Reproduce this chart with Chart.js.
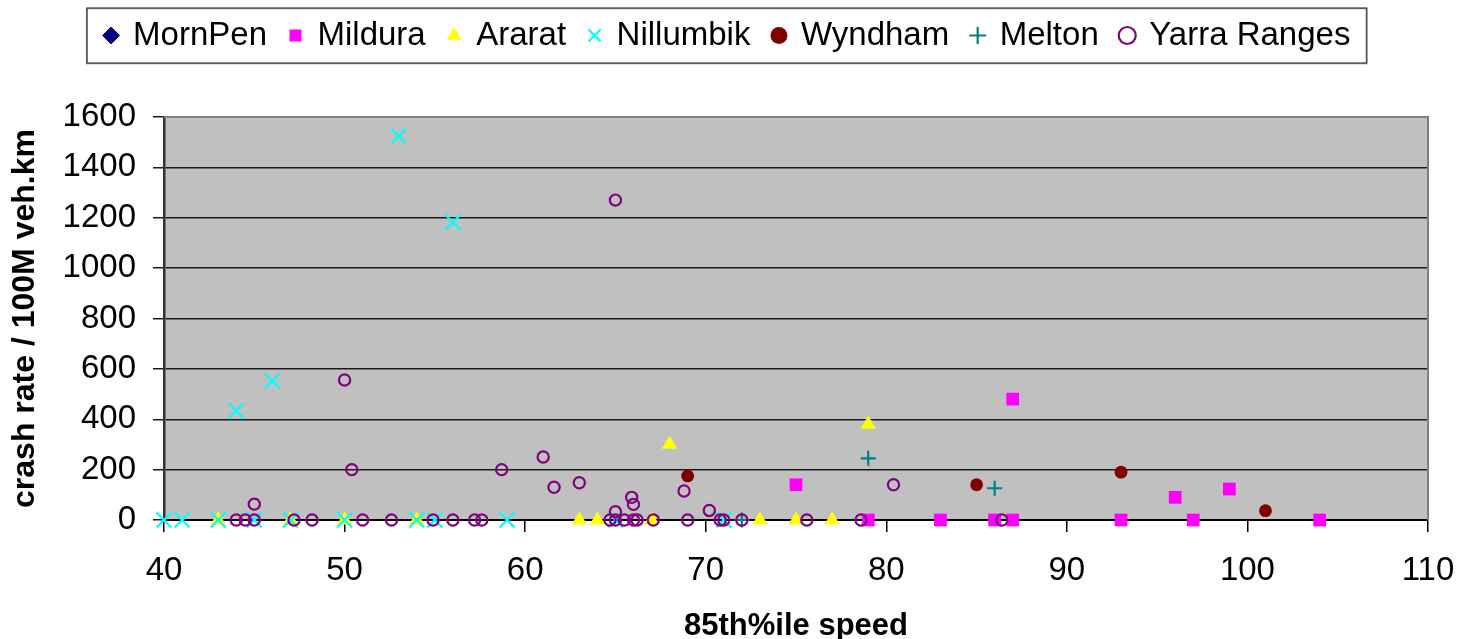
<!DOCTYPE html>
<html>
<head>
<meta charset="utf-8">
<script src="https://cdn.jsdelivr.net/npm/chart.js@4"></script>
<style>
  html, body { margin: 0; padding: 0; background: #ffffff; }
  #wrap { width: 1465px; height: 639px; position: relative; }
</style>
</head>
<body>
<div id="wrap"><canvas id="c"></canvas></div>
<script>
// ---- data ----
const seriesNames = ["MornPen", "Mildura", "Ararat", "Nillumbik", "Wyndham", "Melton", "Yarra Ranges"];

const mornPenX = [];
const mornPenY = [];

const milduraX = [75, 79, 83, 86, 87, 87, 93, 96, 97, 99, 104];
const milduraY = [140, 0, 0, 0, 0, 480, 0, 90, 0, 123, 0];

const araratX = [43, 47, 50, 54, 63, 64, 67, 68, 73, 75, 77, 79];
const araratY = [0, 0, 0, 0, 0, 0, 0, 300, 0, 0, 0, 380];

const nillumbikX = [40, 41, 43, 44, 45, 46, 47, 50, 53, 54, 55, 56, 59, 65, 71];
const nillumbikY = [0, 0, 0, 434, 0, 552, 0, 0, 1524, 0, 0, 1182, 0, 0, 0];

const wyndhamX = [69, 85, 93, 101];
const wyndhamY = [175, 140, 190, 37];

const meltonX = [72, 79, 86];
const meltonY = [0, 245, 126];

const yarraX = [44, 44.5, 45, 45, 47.2, 48.2, 50, 50.4, 51, 52.6, 54.9, 56, 57.2, 57.6, 58.7,
                61, 61.6, 63, 64.7, 65, 65, 65, 65.5, 65.9, 66, 66, 66.2, 67.1, 68.8, 69,
                70.2, 70.8, 71, 72, 75.6, 78.6, 80.4, 86.4];
const yarraY = [0, 0, 0, 63, 0, 0, 556, 200, 0, 0, 0, 0, 0, 0, 200,
                250, 130, 148, 0, 0, 33, 1270, 0, 90, 62, 0, 0, 0, 115, 0,
                38, 0, 0, 0, 0, 0, 140, 0];

const xTicks = [40, 50, 60, 70, 80, 90, 100, 110];
const yTicks = [0, 200, 400, 600, 800, 1000, 1200, 1400, 1600];
const xTitle = "85th%ile speed";
const yTitle = "crash rate / 100M veh.km";

// ---- build ----
function pts(xs, ys) { return xs.map((x, i) => ({ x: x, y: ys[i] })); }

const styles = [
  { pointStyle: 'rectRot',  bg: '#000080', bc: '#000080', r: 6,   bw: 1 },
  { pointStyle: 'rect',     bg: '#FF00FF', bc: '#FF00FF', r: 9,   bw: 0 },
  { pointStyle: 'triangle', bg: '#FFFF00', bc: '#FFFF00', r: 8.8, bw: 0 },
  { pointStyle: 'crossRot', bg: '#00FFFF', bc: '#00FFFF', r: 10.5, bw: 2.2 },
  { pointStyle: 'circle',   bg: '#800000', bc: '#800000', r: 6.4, bw: 0 },
  { pointStyle: 'cross',    bg: '#008080', bc: '#008080', r: 7.5, bw: 2.2 },
  { pointStyle: 'circle',   bg: 'rgba(0,0,0,0)', bc: '#800080', r: 5.6, bw: 2.2 }
];
const seriesData = [
  pts(mornPenX, mornPenY), pts(milduraX, milduraY), pts(araratX, araratY),
  pts(nillumbikX, nillumbikY), pts(wyndhamX, wyndhamY), pts(meltonX, meltonY),
  pts(yarraX, yarraY)
];

const datasets = seriesNames.map((name, i) => ({
  label: name,
  data: seriesData[i],
  showLine: false,
  clip: false,
  pointStyle: styles[i].pointStyle,
  backgroundColor: styles[i].bg,
  borderColor: styles[i].bc,
  pointBackgroundColor: styles[i].bg,
  pointBorderColor: styles[i].bc,
  pointRadius: styles[i].r,
  pointBorderWidth: styles[i].bw,
  borderWidth: styles[i].bw,
  order: seriesNames.length - i
}));

const FONT = "'Liberation Sans', Arial, sans-serif";
const LEGEND_SHIFT = 14;

const framePlugin = {
  id: 'frame',
  afterInit(chart) {
    const lg = chart.legend;
    if (lg) {
      const orig = lg.fit;
      lg.fit = function () { orig.call(this); this.height = 121; };
    }
  },
  afterLayout(chart) {
    const lg = chart.legend;
    if (lg) { lg.left += LEGEND_SHIFT; lg.right += LEGEND_SHIFT; }
  },
  beforeDraw(chart) {
    const a = chart.chartArea, ctx = chart.ctx;
    ctx.save();
    ctx.fillStyle = '#C0C0C0';
    ctx.fillRect(a.left, a.top, a.right - a.left, a.bottom - a.top);
    ctx.restore();
  },
  afterDraw(chart) {
    const a = chart.chartArea, ctx = chart.ctx;
    ctx.save();
    ctx.strokeStyle = '#808080';
    ctx.lineWidth = 2;
    ctx.beginPath();
    ctx.moveTo(a.left, a.top);
    ctx.lineTo(a.right, a.top);
    ctx.lineTo(a.right, a.bottom);
    ctx.stroke();
    // legend frame
    const hb = chart.legend && chart.legend.legendHitBoxes;
    if (hb && hb.length) {
      const first = hb[0], last = hb[hb.length - 1];
      const cy = first.top + first.height / 2;
      const l = first.left - 19, r = last.left + last.width + 16;
      ctx.strokeStyle = '#8a8a8a';
      ctx.lineWidth = 1.5;
      ctx.strokeRect(l, cy - 27, r - l, 55);
      ctx.strokeStyle = '#303030';
      ctx.lineWidth = 1;
      ctx.strokeRect(l + 0.5, cy - 27.5, r - l, 55);
    }
    ctx.restore();
  }
};

new Chart(document.getElementById('c'), {
  type: 'scatter',
  data: { datasets: datasets },
  plugins: [framePlugin],
  options: {
    responsive: true,
    maintainAspectRatio: false,
    animation: false,
    devicePixelRatio: 1,
    layout: { padding: { left: 0, right: 37, top: -4, bottom: 0 } },
    plugins: {
      tooltip: { enabled: false },
      legend: {
        position: 'top',
        labels: {
          usePointStyle: true,
          boxWidth: 11,
          boxHeight: 12,
          padding: 23,
          color: '#000',
          font: { family: FONT, size: 33 },
          sort: (a, b) => a.datasetIndex - b.datasetIndex
        }
      }
    },
    scales: {
      x: {
        type: 'linear',
        min: xTicks[0],
        max: xTicks[xTicks.length - 1],
        afterBuildTicks(scale) { scale.ticks = xTicks.map(v => ({ value: v })); },
        afterFit(scale) { scale.height = 119; scale.paddingLeft = 0; scale.paddingRight = 0; },
        grid: { drawOnChartArea: false, drawTicks: true, tickLength: 12, color: '#000', lineWidth: 1.5 },
        border: { display: true, color: '#000', width: 2 },
        ticks: { color: '#000', padding: 19, font: { family: FONT, size: 33 },
                 callback: (v) => String(v) },
        title: { display: true, text: xTitle, color: '#000', padding: { top: 0, bottom: 0 },
                 font: { family: FONT, size: 31, weight: 'bold', lineHeight: 0.8 } }
      },
      y: {
        type: 'linear',
        min: yTicks[0],
        max: yTicks[yTicks.length - 1],
        afterBuildTicks(scale) { scale.ticks = yTicks.map(v => ({ value: v })); },
        afterFit(scale) { scale.width = 164; },
        grid: { drawOnChartArea: true, drawTicks: true, tickLength: 11, color: '#1a1a1a', lineWidth: 1.5 },
        border: { display: true, color: '#333', width: 2.5 },
        ticks: { color: '#000', padding: 17, font: { family: FONT, size: 33 },
                 callback: (v) => String(v) },
        title: { display: true, text: yTitle, color: '#000', padding: { top: 9, bottom: 0 },
                 font: { family: FONT, size: 32, weight: 'bold', lineHeight: 1.0 } }
      }
    }
  }
});
</script>
</body>
</html>
